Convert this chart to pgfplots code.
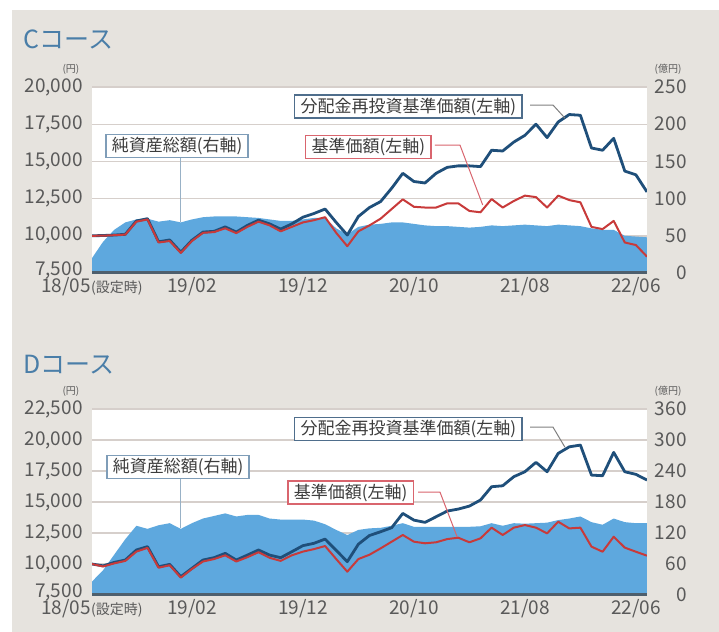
\documentclass[border=0pt]{standalone}
\usepackage{fontspec}
\setmainfont{Noto Sans CJK JP}
\usepackage{pgfplots}
\usepackage{pgfplotstable}
\pgfplotsset{compat=1.18}
\definecolor{bg}{HTML}{E6E3DE}
\definecolor{areab}{HTML}{5EA8DE}
\definecolor{navy}{HTML}{1F4F7A}
\definecolor{redl}{HTML}{C83A3A}
\definecolor{gridc}{HTML}{D6CFCB}
\definecolor{tickc}{HTML}{595959}
\definecolor{titlec}{HTML}{4A7EA8}
\definecolor{basec}{HTML}{4E5F6D}
\definecolor{boxb}{HTML}{7F9DB8}
\definecolor{boxr}{HTML}{D9656E}
\definecolor{boxn}{HTML}{4F6E8C}
\definecolor{txtc}{HTML}{3C3C3C}

\pgfplotstableread{
m b r a
0 10000 10000 20
1 10020 10010 42
2 10050 10040 58
3 10100 10080 68
4 11000 10950 72
5 11150 11100 73
6 9600 9550 69
7 9720 9650 71
8 8900 8850 68
9 9700 9650 72
10 10250 10200 75
11 10300 10250 76
12 10600 10500 76
13 10250 10180 76
14 10700 10600 75
15 11050 10950 74
16 10800 10700 72
17 10450 10300 70
18 10800 10600 70
19 11250 10900 72
20 11500 11050 74
21 11800 11250 74
22 10900 10200 60
23 10050 9300 52
24 11300 10300 62
25 11900 10700 65
26 12300 11150 66
27 13200 11800 68
28 14200 12450 68
29 13650 11950 66
30 13550 11900 64
31 14200 11900 63
32 14600 12180 63
33 14700 12180 62
34 14700 11670 61
35 14650 11580 62
36 15750 12470 64
37 15700 11900 63
38 16300 12340 64
39 16750 12700 65
40 17500 12600 64
41 16600 11900 63
42 17650 12700 65
43 18150 12400 64
44 18100 12250 63
45 15900 10600 60
46 15750 10450 58
47 16550 11000 58
48 14350 9550 50
49 14100 9380 49
50 12950 8600 48
}\dataC

\pgfplotstableread{
m b r a
0 10000 10000 26
1 9850 9800 48
2 10130 10050 78
3 10320 10250 108
4 11130 11000 134
5 11400 11300 128
6 9780 9700 135
7 9970 9900 139
8 8980 8900 128
9 9650 9600 139
10 10320 10200 148
11 10510 10400 153
12 10860 10700 158
13 10320 10200 152
14 10720 10550 155
15 11130 10950 155
16 10720 10500 148
17 10510 10250 146
18 10990 10700 146
19 11480 11000 146
20 11670 11200 144
21 12010 11450 137
22 11100 10400 126
23 10190 9380 116
24 11600 10400 126
25 12300 10750 129
26 12600 11260 130
27 12930 11800 134
28 14080 12340 139
29 13540 11800 132
30 13360 11670 132
31 13810 11750 132
32 14270 12010 132
33 14430 12120 132
34 14670 11750 132
35 15160 12070 133
36 16230 12930 139
37 16310 12340 134
38 17040 12930 139
39 17440 13140 138
40 18200 12930 139
41 17440 12470 140
42 18920 13410 145
43 19450 12870 148
44 19590 12930 152
45 17170 11400 141
46 17120 10990 136
47 19000 12200 148
48 17440 11320 141
49 17230 10990 139
50 16770 10670 139
}\dataD

\tikzset{
  ann/.style={draw=#1, line width=0.8pt, fill=white, text=txtc, inner xsep=3pt, inner ysep=0pt,
    minimum height=11.5pt, font=\fontsize{8.5}{9}\selectfont},
}
\pgfplotsset{
  base/.style={scale only axis, width=277.5pt, height=93pt, xmin=0, xmax=50,
    axis line style={draw=none}, major tick length=0pt, tick style={draw=none},
    scaled y ticks=false, scaled x ticks=false,
    tick label style={font=\fontsize{9.5}{10}\selectfont, text=tickc}},
  rightax/.style={base, yticklabel pos=right, ymajorgrids,
    grid style={gridc, line width=0.7pt}, axis background/.style={fill=white},
    xtick=\empty, yticklabel style={anchor=east, inner sep=0pt, xshift=20pt}},
  leftax/.style={base, xtick={0,9,19,29,39,49},
    xticklabels={18/05{\fontsize{7}{8}\selectfont(設定時)},19/02,19/12,20/10,21/08,22/06},
    xticklabel style={anchor=north, inner sep=0pt, yshift=-2pt},
    yticklabel style={anchor=east, inner sep=0pt, xshift=-4.5pt}},
}

\begin{document}
\begin{tikzpicture}
\fill[white] (0pt,0pt) rectangle (359.5pt,-316pt);
\fill[bg] (6pt,-5pt) rectangle (359.5pt,-316pt);
\useasboundingbox (0pt,0pt) rectangle (359.5pt,-316pt);

% titles and units
\node[anchor=west, inner sep=0pt, text=titlec, font=\fontsize{12.5}{12.5}\selectfont] at (11.5pt,-20pt) {Cコース};
\node[anchor=west, inner sep=0pt, text=titlec, font=\fontsize{12.5}{12.5}\selectfont] at (11.5pt,-182.5pt) {Dコース};
\node[inner sep=0pt, text=tickc, font=\fontsize{5}{5}\selectfont] at (35.5pt,-34.5pt) {(円)};
\node[inner sep=0pt, text=tickc, font=\fontsize{5}{5}\selectfont] at (334pt,-34.5pt) {(億円)};
\node[inner sep=0pt, text=tickc, font=\fontsize{5}{5}\selectfont] at (35.5pt,-195.5pt) {(円)};
\node[inner sep=0pt, text=tickc, font=\fontsize{5}{5}\selectfont] at (334pt,-195.5pt) {(億円)};

% ===== C course =====
\begin{axis}[rightax, at={(46pt,-136.5pt)}, anchor=south west, ymin=0, ymax=250,
  ytick={0,50,100,150,200,250}, yticklabels={0,50,100,150,200,250}]
\addplot[fill=areab, draw=none] table[x=m,y=a] {\dataC} \closedcycle;
\end{axis}
\begin{axis}[leftax, at={(46pt,-136.5pt)}, anchor=south west, ymin=7500, ymax=20000,
  ytick={7500,10000,12500,15000,17500,20000},
  yticklabels={{\raisebox{4pt}{7,500}},{10,000},{12,500},{15,000},{17,500},{20,000}}]
\addplot[navy, line width=1.4pt, line join=round] table[x=m,y=b] {\dataC};
\addplot[redl, line width=1pt, line join=round] table[x=m,y=r] {\dataC};
\draw[basec, line width=1.6pt] (rel axis cs:0,0) -- (rel axis cs:1,0);
\draw[boxb!80, line width=0.5pt] (axis cs:7.93,15500) -- (axis cs:7.93,10930);
\node[ann=boxb] at (axis cs:7.66,16034) {純資産総額(右軸)};
\draw[boxr, line width=0.5pt] (axis cs:30.9,16100) -- (axis cs:33.15,16100) -- (axis cs:35.2,12070);
\node[ann=boxr] at (axis cs:24.9,15967) {基準価額(左軸)};
\draw[gray, line width=0.5pt] (axis cs:39.46,18790) -- (axis cs:41.53,18790) -- (axis cs:42.6,17916);
\node[ann=boxn] at (axis cs:28.5,18689) {分配金再投資基準価額(左軸)};
\end{axis}

% ===== D course =====
\begin{axis}[rightax, at={(46pt,-297.5pt)}, anchor=south west, ymin=0, ymax=360,
  ytick={0,60,120,180,240,300,360}, yticklabels={0,60,120,180,240,300,360}]
\addplot[fill=areab, draw=none] table[x=m,y=a] {\dataD} \closedcycle;
\end{axis}
\begin{axis}[leftax, at={(46pt,-297.5pt)}, anchor=south west, ymin=7500, ymax=22500,
  ytick={7500,10000,12500,15000,17500,20000,22500},
  yticklabels={{\raisebox{4pt}{7,500}},{10,000},{12,500},{15,000},{17,500},{20,000},{22,500}}]
\addplot[navy, line width=1.4pt, line join=round] table[x=m,y=b] {\dataD};
\addplot[redl, line width=1pt, line join=round] table[x=m,y=r] {\dataD};
\draw[basec, line width=1.6pt] (rel axis cs:0,0) -- (rel axis cs:1,0);
\draw[boxb!80, line width=0.5pt] (axis cs:7.93,17500) -- (axis cs:7.93,12900);
\node[ann=boxb] at (axis cs:7.75,17817) {純資産総額(右軸)};
\draw[boxr, line width=0.5pt] (axis cs:29.37,15802) -- (axis cs:31.35,15802) -- (axis cs:32.9,12175);
\node[ann=boxr] at (axis cs:23.3,15762) {基準価額(左軸)};
\draw[gray, line width=0.5pt] (axis cs:39.46,21041) -- (axis cs:41.53,21041) -- (axis cs:42.6,19429);
\node[ann=boxn] at (axis cs:28.5,20880) {分配金再投資基準価額(左軸)};
\end{axis}
\end{tikzpicture}
\end{document}
